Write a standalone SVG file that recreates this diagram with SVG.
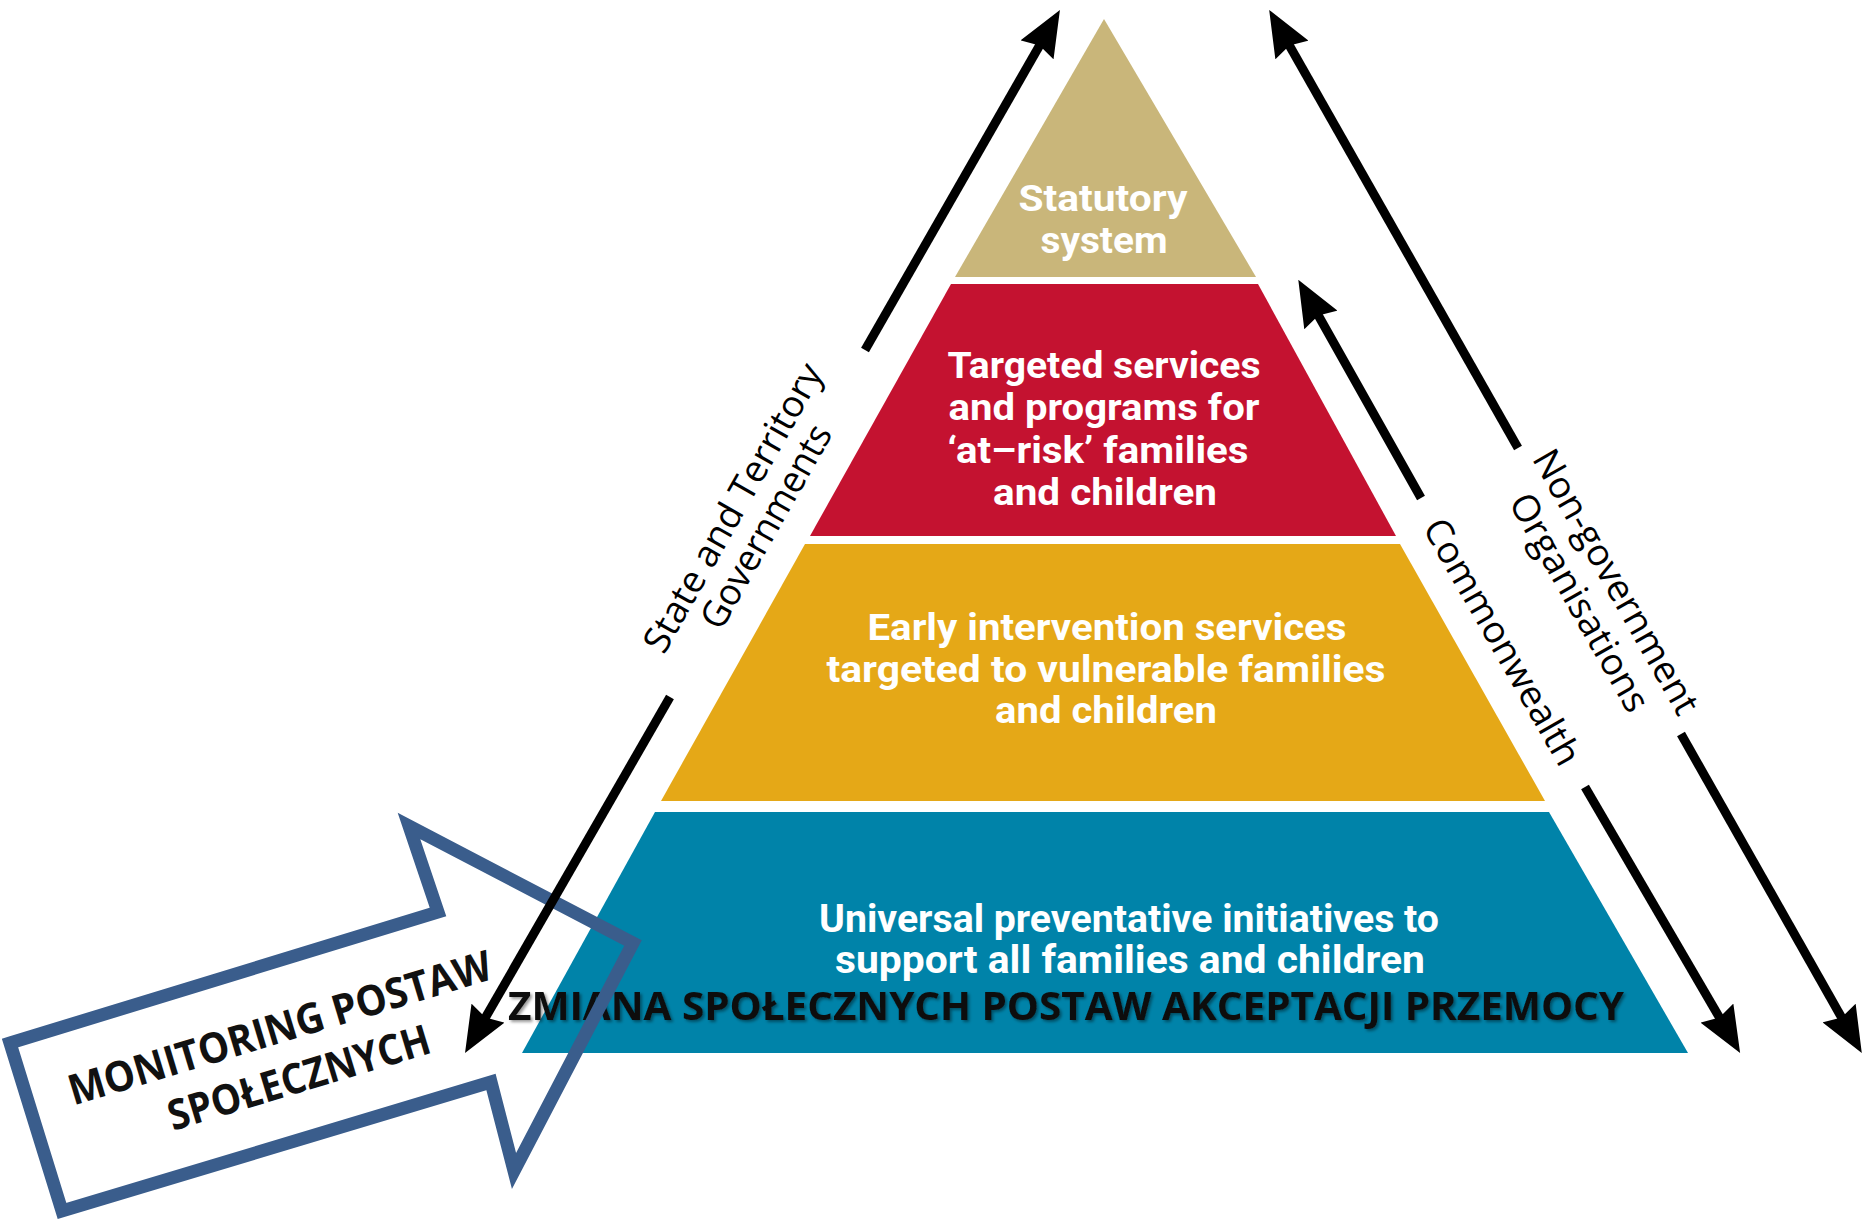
<svg xmlns="http://www.w3.org/2000/svg" width="1864" height="1225" viewBox="0 0 1864 1225">
  <defs>
    <style>
      .band-text { font-family: Roboto, "Open Sans", sans-serif; font-weight: 700; fill: #ffffff; text-anchor: middle; }
      .side-label { font-family: "Open Sans", "Liberation Sans", sans-serif; font-size: 37px; fill: #000000; text-anchor: middle; }
      .conn { stroke: #000000; stroke-width: 9; fill: none; marker-end: url(#ah); }
      .bold-label { font-family: "Open Sans", "Liberation Sans", sans-serif; font-weight: 700; text-anchor: middle; fill: #111111; }
    </style>
    <marker id="ah" markerUnits="userSpaceOnUse" viewBox="0 0 46 38" refX="16" refY="19" markerWidth="46" markerHeight="38" orient="auto">
      <path d="M0,0 L46,19 L0,38 L5,19 z" fill="#000000"/>
    </marker>
    <filter id="shadow" x="-5%" y="-30%" width="110%" height="160%">
      <feDropShadow dx="2" dy="2" stdDeviation="1.5" flood-color="#000000" flood-opacity="0.4"/>
    </filter>
  </defs>

  <rect x="0" y="0" width="1864" height="1225" fill="#ffffff"/>

  <!-- Pyramid levels -->
  <g id="level-statutory">
    <polygon points="1104,19 1256,277 955,277" fill="#c9b67a"/>
    <text class="band-text" font-size="37" x="1103" y="211" textLength="169" lengthAdjust="spacingAndGlyphs">Statutory</text>
    <text class="band-text" font-size="37" x="1104" y="253" textLength="127" lengthAdjust="spacingAndGlyphs">system</text>
  </g>

  <g id="level-targeted">
    <polygon points="951,284 1258,284 1396,536 810,536" fill="#c41230"/>
    <text class="band-text" font-size="36" x="1104" y="378" textLength="313" lengthAdjust="spacingAndGlyphs">Targeted services</text>
    <text class="band-text" font-size="36" x="1104" y="420" textLength="311" lengthAdjust="spacingAndGlyphs">and programs for</text>
    <text class="band-text" font-size="36" x="1098" y="463" textLength="301" lengthAdjust="spacingAndGlyphs">‘at–risk’ families</text>
    <text class="band-text" font-size="36" x="1105" y="505" textLength="224" lengthAdjust="spacingAndGlyphs">and children</text>
  </g>

  <g id="level-early">
    <polygon points="805,544 1400,544 1545,801 661,801" fill="#e5a817"/>
    <text class="band-text" font-size="37" x="1107" y="640" textLength="479" lengthAdjust="spacingAndGlyphs">Early intervention services</text>
    <text class="band-text" font-size="37" x="1106" y="682" textLength="559" lengthAdjust="spacingAndGlyphs">targeted to vulnerable families</text>
    <text class="band-text" font-size="37" x="1106" y="723" textLength="222" lengthAdjust="spacingAndGlyphs">and children</text>
  </g>

  <g id="level-universal">
    <polygon points="655,812 1549,812 1688,1053 522,1053" fill="#0083a9"/>
    <text class="band-text" font-size="38" x="1129" y="932" textLength="620" lengthAdjust="spacingAndGlyphs">Universal preventative initiatives to</text>
    <text class="band-text" font-size="38" x="1130" y="973" textLength="590" lengthAdjust="spacingAndGlyphs">support all families and children</text>
  </g>

  <g id="zmiana-label">
    <text class="bold-label" font-size="39" x="1066" y="1020" textLength="1116" lengthAdjust="spacingAndGlyphs" filter="url(#shadow)">ZMIANA SPOŁECZNYCH POSTAW AKCEPTACJI PRZEMOCY</text>
  </g>

  <!-- Monitoring arrow -->
  <g id="monitoring-arrow">
    <polygon points="10,1043 438,912 409,826 633,943 514,1171 491,1082 62,1211" fill="none" stroke="#3a5d8c" stroke-width="13" stroke-linejoin="miter"/>
    <g transform="translate(284,1042) rotate(-16.8)">
      <text class="bold-label" font-size="42" x="0" y="0" textLength="440" lengthAdjust="spacingAndGlyphs">MONITORING POSTAW</text>
      <text class="bold-label" font-size="42" x="4" y="53" textLength="272" lengthAdjust="spacingAndGlyphs">SPOŁECZNYCH</text>
    </g>
  </g>

  <!-- Connectors -->
  <g id="connectors">
    <line class="conn" x1="865" y1="350" x2="1045" y2="36"/>
    <line class="conn" x1="670" y1="697" x2="480" y2="1027"/>
    <line class="conn" x1="1421" y1="498" x2="1313" y2="306"/>
    <line class="conn" x1="1585" y1="787" x2="1725" y2="1027"/>
    <line class="conn" x1="1518" y1="448" x2="1284" y2="36"/>
    <line class="conn" x1="1681" y1="734" x2="1847" y2="1027"/>
  </g>

  <!-- Side labels -->
  <g id="label-state">
    <g transform="translate(744,514) rotate(-60.5)">
      <text class="side-label" x="0" y="0" textLength="325" lengthAdjust="spacingAndGlyphs">State and Territory</text>
      <text class="side-label" x="0" y="38" textLength="228" lengthAdjust="spacingAndGlyphs">Governments</text>
    </g>
  </g>
  <g id="label-commonwealth">
    <g transform="translate(1491,648) rotate(60.2)">
      <text class="side-label" x="0" y="0" textLength="278" lengthAdjust="spacingAndGlyphs">Commonwealth</text>
    </g>
  </g>
  <g id="label-ngo">
    <g transform="translate(1605,588) rotate(60.4)">
      <text class="side-label" x="0" y="0" textLength="298" lengthAdjust="spacingAndGlyphs">Non-government</text>
      <text class="side-label" x="0" y="42" textLength="245" lengthAdjust="spacingAndGlyphs">Organisations</text>
    </g>
  </g>
</svg>
